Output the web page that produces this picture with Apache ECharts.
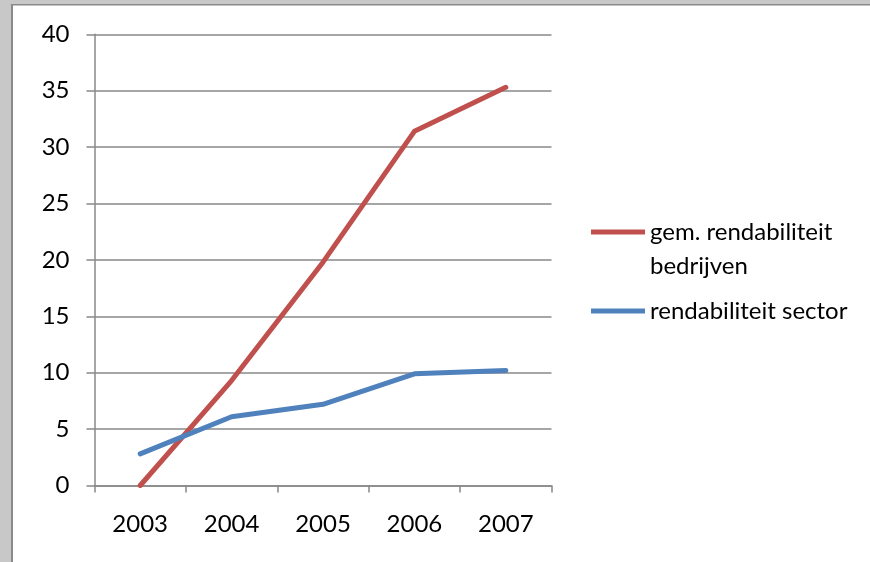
<!DOCTYPE html>
<html>
<head>
<meta charset="utf-8">
<script src="https://cdn.jsdelivr.net/npm/echarts@6/dist/echarts.min.js"></script>
<style>
  html, body { margin: 0; padding: 0; background: #ffffff; }
  #chart { width: 870px; height: 562px; }
</style>
</head>
<body>
<div id="chart"></div>
<script>
// Jaren op de categorie-as
var years = ['2003', '2004', '2005', '2006', '2007'];
// Gemiddelde rendabiliteit van de bedrijven (%)
var bedrijven = [0, 9.3, 19.8, 31.4, 35.3];
// Rendabiliteit van de sector (%)
var sector = [2.8, 6.1, 7.2, 9.9, 10.2];
// Reeksnamen zoals in de legenda
var nameBedrijven = 'gem. rendabiliteit\nbedrijven';
var nameSector = 'rendabiliteit sector';

var FONT = 'Lato, "Open Sans", sans-serif';
var AXIS_GREY = '#888888';

var chart = echarts.init(document.getElementById('chart'), null, { renderer: 'canvas' });

chart.setOption({
  animation: false,
  backgroundColor: '#ffffff',
  textStyle: { fontFamily: FONT, color: '#000000' },
  grid: { left: 94.5, right: 318.5, top: 34.3, bottom: 76.5, containLabel: false },
  xAxis: {
    type: 'category',
    data: years,
    boundaryGap: true,
    axisLine: { show: true, lineStyle: { color: AXIS_GREY, width: 1.5 } },
    axisTick: { show: true, alignWithLabel: false, length: 7, lineStyle: { color: AXIS_GREY, width: 1.5 } },
    axisLabel: { color: '#000000', fontFamily: FONT, fontSize: 24, margin: 27 },
    splitLine: { show: false }
  },
  yAxis: {
    type: 'value',
    min: 0,
    max: 40,
    interval: 5,
    axisLine: { show: true, lineStyle: { color: AXIS_GREY, width: 1.5 } },
    axisTick: { show: true, length: 8, lineStyle: { color: AXIS_GREY, width: 1.5 } },
    axisLabel: { color: '#000000', fontFamily: FONT, fontSize: 24, margin: 25 },
    splitLine: { show: true, lineStyle: { color: AXIS_GREY, width: 1.5 } }
  },
  legend: [
    {
      orient: 'vertical',
      left: 591,
      top: 181,
      padding: 0,
      icon: 'rect',
      itemWidth: 54,
      itemHeight: 5,
      selectedMode: false,
      data: [{ name: nameBedrijven, itemStyle: { color: '#C0504D' } }],
      // lege eerste regel: de lijn staat op de hoogte van de eerste tekstregel
      formatter: function (name) { return '\n' + name; },
      textStyle: { fontFamily: FONT, fontSize: 24, color: '#000000', lineHeight: 34 }
    },
    {
      orient: 'vertical',
      left: 591,
      top: 294,
      padding: 0,
      icon: 'rect',
      itemWidth: 54,
      itemHeight: 5,
      selectedMode: false,
      data: [{ name: nameSector, itemStyle: { color: '#4F81BD' } }],
      textStyle: { fontFamily: FONT, fontSize: 24, color: '#000000', lineHeight: 34 }
    }
  ],
  series: [
    {
      name: nameBedrijven,
      type: 'line',
      data: bedrijven,
      showSymbol: false,
      symbol: 'none',
      lineStyle: { color: '#C0504D', width: 5, cap: 'round', join: 'round' },
      itemStyle: { color: '#C0504D' },
      z: 3
    },
    {
      name: nameSector,
      type: 'line',
      data: sector,
      showSymbol: false,
      symbol: 'none',
      lineStyle: { color: '#4F81BD', width: 5, cap: 'round', join: 'round' },
      itemStyle: { color: '#4F81BD' },
      z: 4
    }
  ],
  graphic: [
    // lichtgrijze rand links en boven
    { type: 'rect', left: 0, top: 0, shape: { width: 11, height: 562 }, style: { fill: '#c8c8c8' }, silent: true },
    { type: 'rect', left: 0, top: 0, shape: { width: 870, height: 4 }, style: { fill: '#c8c8c8' }, silent: true },
    // donkere binnenrand
    { type: 'rect', left: 11, top: 4, shape: { width: 2, height: 558 }, style: { fill: '#8a8a8a' }, silent: true },
    { type: 'rect', left: 11, top: 4, shape: { width: 859, height: 1.5 }, style: { fill: '#8a8a8a' }, silent: true }
  ]
});
</script>
</body>
</html>
